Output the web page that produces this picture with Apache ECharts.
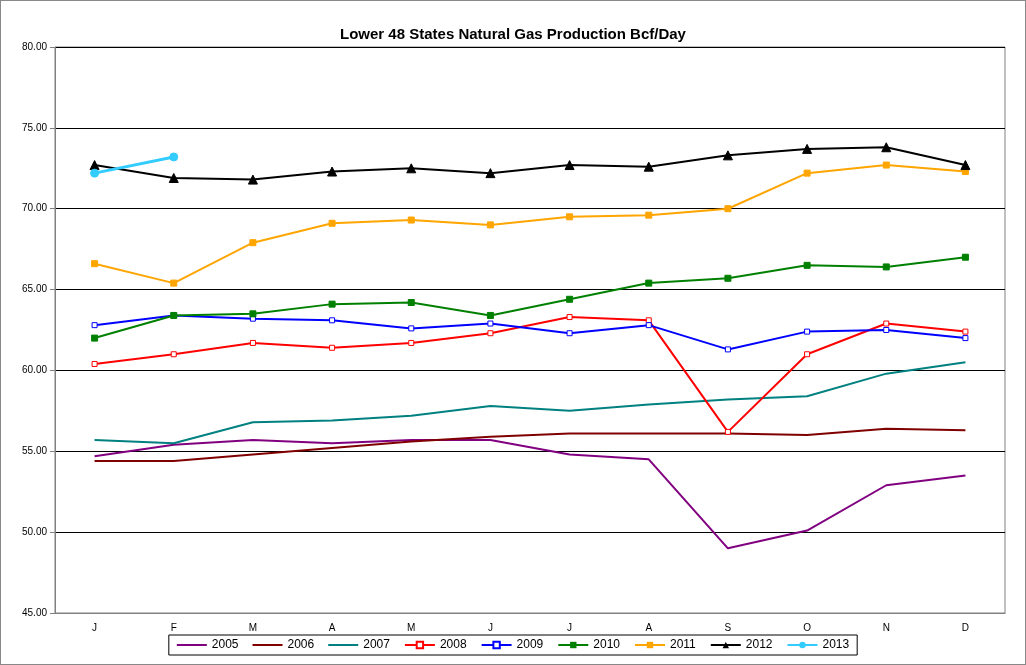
<!DOCTYPE html>
<html><head><meta charset="utf-8">
<script src="https://cdn.jsdelivr.net/npm/echarts@6/dist/echarts.min.js"></script>
<style>html,body{margin:0;padding:0;background:#fff}#c{width:1026px;height:665px;box-sizing:border-box;border:1px solid #888}</style>
</head><body><div id="c"></div>
<script>
const months=['J','F','M','A','M','J','J','A','S','O','N','D'];
const y2005=[54.7,55.4,55.7,55.5,55.7,55.7,54.8,54.5,49.0,50.1,52.9,53.5];
const y2006=[54.4,54.4,54.8,55.2,55.6,55.9,56.1,56.1,56.1,56.0,56.4,56.3];
const y2007=[55.7,55.5,56.8,56.9,57.2,57.8,57.5,57.9,58.2,58.4,59.8,60.5];
const y2008=[60.4,61.0,61.7,61.4,61.7,62.3,63.3,63.1,56.2,61.0,62.9,62.4];
const y2009=[62.8,63.4,63.2,63.1,62.6,62.9,62.3,62.8,61.3,62.4,62.5,62.0];
const y2010=[62.0,63.4,63.5,64.1,64.2,63.4,64.4,65.4,65.7,66.5,66.4,67.0];
const y2011=[66.6,65.4,67.9,69.1,69.3,69.0,69.5,69.6,70.0,72.2,72.7,72.3];
const y2012=[72.7,71.9,71.8,72.3,72.5,72.2,72.7,72.6,73.3,73.7,73.8,72.7];
const y2013=[72.2,73.2];
const mk=(name,data,color,sym,size,extra)=>Object.assign({name,type:'line',data,symbol:sym,symbolSize:size,showSymbol:sym!=='none',
 lineStyle:{color,width:2},itemStyle:{color,borderColor:color},color},extra||{});
const series=[
 mk('2005',y2005,'#800080','none',0),
 mk('2006',y2006,'#800000','none',0),
 mk('2007',y2007,'#008080','none',0),
 mk('2008',y2008,'#ff0000','rect',5,{itemStyle:{color:'#fff',borderColor:'#ff0000',borderWidth:1}}),
 mk('2009',y2009,'#0000ff','rect',5,{itemStyle:{color:'#fff',borderColor:'#0000ff',borderWidth:1}}),
 mk('2010',y2010,'#008000','rect',6),
 mk('2011',y2011,'#ffa500','rect',6),
 mk('2012',y2012,'#000000','triangle',9),
 mk('2013',y2013,'#33ccff','circle',8,{lineStyle:{color:'#33ccff',width:3}})
];
const line='path://M0,0H30V2H0Z';
const ch=echarts.init(document.getElementById('c'));
ch.setOption({
 backgroundColor:'#fff',animation:false,
 title:{text:'Lower 48 States Natural Gas Production Bcf/Day',left:'center',top:21,textStyle:{fontFamily:'Arial',fontSize:15,fontWeight:'bold',color:'#000'}},
 grid:{left:54,right:20,top:46,bottom:51,show:true,borderColor:'#808080',borderWidth:1},
 legend:{bottom:9,left:'center',itemGap:14,itemWidth:30,itemHeight:8,borderColor:'#000',borderWidth:1,padding:[4,8],
  data:[{name:'2005',icon:line},{name:'2006',icon:line},{name:'2007',icon:line},'2008','2009','2010','2011','2012','2013'],
  textStyle:{fontFamily:'Arial',fontSize:12,color:'#000'}},
 xAxis:{type:'category',data:months,boundaryGap:true,axisLine:{lineStyle:{color:'#808080'}},axisTick:{show:false},
  axisLabel:{fontFamily:'Arial',fontSize:10,color:'#000',margin:10}},
 yAxis:{type:'value',min:45,max:80,interval:5,axisLine:{show:true,lineStyle:{color:'#808080'}},axisTick:{show:true,lineStyle:{color:'#808080'}},
  splitLine:{lineStyle:{color:'#000',width:1}},
  axisLabel:{fontFamily:'Arial',fontSize:10,color:'#000',formatter:v=>v.toFixed(2)}},
 series
});
</script></body></html>
